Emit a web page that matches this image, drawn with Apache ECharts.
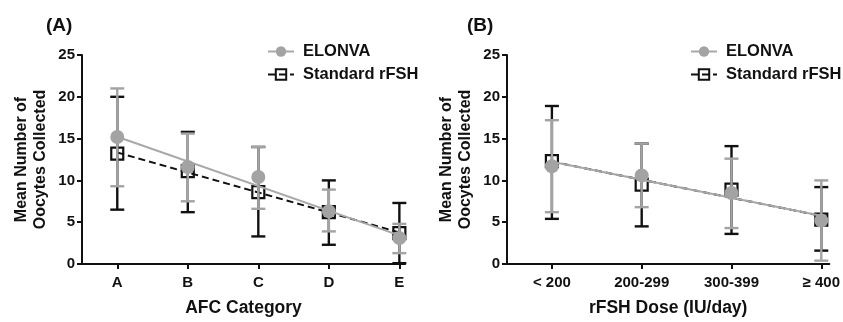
<!DOCTYPE html>
<html>
<head>
<meta charset="utf-8">
<script src="https://cdn.jsdelivr.net/npm/echarts@6/dist/echarts.min.js"></script>
<style>html,body{margin:0;padding:0;background:#fff}#c{width:843px;height:322px}</style>
</head>
<body>
<div id="c"></div>
<script>
// Panel A: AFC category
var categoriesA = ['A', 'B', 'C', 'D', 'E'];
var elonvaMeanA = [15.2, 11.6, 10.4, 6.3, 3.1];
var elonvaLowA  = [9.3, 7.5, 6.6, 3.9, 1.3];
var elonvaHighA = [21.0, 15.6, 14.0, 8.9, 4.8];
var stdMeanA = [13.2, 11.1, 8.6, 6.2, 3.7];
var stdLowA  = [6.5, 6.2, 3.3, 2.3, 0.1];
var stdHighA = [20.0, 15.8, 14.0, 10.0, 7.3];

// Panel B: rFSH dose
var categoriesB = ['< 200', '200-299', '300-399', '\u2265 400'];
var elonvaMeanB = [11.7, 10.6, 8.5, 5.2];
var elonvaLowB  = [6.2, 6.8, 4.3, 0.4];
var elonvaHighB = [17.2, 14.4, 12.6, 10.0];
var stdMeanB = [12.3, 9.5, 8.9, 5.3];
var stdLowB  = [5.4, 4.5, 3.6, 1.6];
var stdHighB = [18.9, 14.4, 14.1, 9.2];

var yTicks = [0, 5, 10, 15, 20, 25];

var GRAY = '#a3a3a3';
var BLACK = '#111111';
var FONT = 'Liberation Sans, Arial, sans-serif';

function fit(means) {
  var n = means.length, mx = (n - 1) / 2, my = 0;
  means.forEach(function (v) { my += v; });
  my /= n;
  var sxy = 0, sxx = 0;
  means.forEach(function (v, i) { sxy += (i - mx) * (v - my); sxx += (i - mx) * (i - mx); });
  var b = sxy / sxx, a = my - b * mx;
  return [[0, a], [n - 1, a + b * (n - 1)]];
}
function errData(low, high) { return low.map(function (l, i) { return [i, l, high[i]]; }); }
function ptData(means) { return means.map(function (m, i) { return [i, m]; }); }

function errRender(color) {
  return function (params, api) {
    var x = api.value(0);
    var p1 = api.coord([x, api.value(1)]);
    var p2 = api.coord([x, api.value(2)]);
    var w = 7;
    var st = { stroke: color, lineWidth: 2.4 };
    return { type: 'group', children: [
      { type: 'line', shape: { x1: p1[0], y1: p1[1], x2: p2[0], y2: p2[1] }, style: st },
      { type: 'line', shape: { x1: p1[0] - w, y1: p1[1], x2: p1[0] + w, y2: p1[1] }, style: st },
      { type: 'line', shape: { x1: p2[0] - w, y1: p2[1], x2: p2[0] + w, y2: p2[1] }, style: st }
    ]};
  };
}

function xAxis(gi, cats, max) {
  var vals = cats.map(function (c, i) { return i; });
  return {
    type: 'value', gridIndex: gi, min: -0.5, max: max,
    name: gi === 0 ? 'AFC Category' : 'rFSH Dose (IU/day)',
    nameLocation: 'middle', nameGap: 35,
    nameTextStyle: { fontFamily: FONT, fontWeight: 'bold', fontSize: 17.5, color: BLACK },
    splitLine: { show: false },
    axisLine: { onZero: false, lineStyle: { color: BLACK, width: 2 } },
    axisTick: { customValues: vals, length: 5, lineStyle: { color: BLACK, width: 2 } },
    axisLabel: { customValues: vals, margin: 11, fontFamily: FONT, fontWeight: 'bold', fontSize: 15, color: BLACK,
      formatter: function (v) { return cats[Math.round(v)]; } }
  };
}
function yAxis(gi) {
  return {
    type: 'value', gridIndex: gi, min: 0, max: 25, interval: 5,
    name: 'Mean Number of\nOocytes Collected', nameLocation: 'middle', nameGap: 32, nameRotate: 90,
    nameTextStyle: { fontFamily: FONT, fontWeight: 'bold', fontSize: 16, color: BLACK, lineHeight: 19 },
    splitLine: { show: false },
    axisLine: { show: true, onZero: false, lineStyle: { color: BLACK, width: 2 } },
    axisTick: { show: true, length: 5, lineStyle: { color: BLACK, width: 2 } },
    axisLabel: { margin: 7, fontFamily: FONT, fontWeight: 'bold', fontSize: 15, color: BLACK,
      customValues: yTicks }
  };
}

function panelSeries(gi, eM, eL, eH, sM, sL, sH) {
  return [
    { name: 'ELONVA', type: 'line', xAxisIndex: gi, yAxisIndex: gi, data: fit(eM), z: 6,
      symbol: 'circle', symbolSize: 13, showSymbol: false, silent: true,
      itemStyle: { color: GRAY }, lineStyle: { color: '#a8a8a8', width: 2 } },
    { name: 'Standard rFSH', type: 'line', xAxisIndex: gi, yAxisIndex: gi, data: fit(sM), z: 3,
      symbol: 'rect', symbolSize: 12, showSymbol: false, silent: true,
      itemStyle: { color: 'rgba(255,255,255,0)', borderColor: BLACK, borderWidth: 2 },
      lineStyle: { color: BLACK, width: 2, type: [7, 4] } },
    { name: 'Standard rFSH', type: 'custom', xAxisIndex: gi, yAxisIndex: gi, z: 2,
      renderItem: errRender(BLACK), data: errData(sL, sH), encode: { x: 0, y: [1, 2] } },
    { name: 'Standard rFSH', type: 'scatter', xAxisIndex: gi, yAxisIndex: gi, z: 4,
      symbol: 'rect', symbolSize: 12, data: ptData(sM),
      itemStyle: { color: 'rgba(255,255,255,0)', borderColor: BLACK, borderWidth: 2.2, opacity: 1 } },
    { name: 'ELONVA', type: 'custom', xAxisIndex: gi, yAxisIndex: gi, z: 5,
      renderItem: errRender(GRAY), data: errData(eL, eH), encode: { x: 0, y: [1, 2] } },
    { name: 'ELONVA', type: 'scatter', xAxisIndex: gi, yAxisIndex: gi, z: 7,
      symbol: 'circle', symbolSize: 14, data: ptData(eM),
      itemStyle: { color: GRAY, opacity: 1 } }
  ];
}

function legend(left) {
  return {
    left: left, top: 38, orient: 'vertical', itemGap: 6, itemWidth: 26, itemHeight: 13,
    data: ['ELONVA', 'Standard rFSH'], selectedMode: false,
    textStyle: { fontFamily: FONT, fontWeight: 'bold', fontSize: 16.5, color: BLACK, padding: [0, 0, 0, 4] }
  };
}

var chart = echarts.init(document.getElementById('c'), null, { renderer: 'canvas' });
chart.setOption({
  animation: false,
  backgroundColor: '#fff',
  title: [
    { text: '(A)', left: 41, top: 11, textStyle: { fontFamily: FONT, fontWeight: 'bold', fontSize: 19, color: BLACK } },
    { text: '(B)', left: 462, top: 11, textStyle: { fontFamily: FONT, fontWeight: 'bold', fontSize: 19, color: BLACK } }
  ],
  legend: [legend(262), legend(685)],
  grid: [
    { left: 82, top: 55, width: 323, height: 213, containLabel: false },
    { left: 507, top: 55, width: 323, height: 213, containLabel: false }
  ],
  xAxis: [xAxis(0, categoriesA, 4.08), xAxis(1, categoriesB, 3.09)],
  yAxis: [yAxis(0), yAxis(1)],
  series: panelSeries(0, elonvaMeanA, elonvaLowA, elonvaHighA, stdMeanA, stdLowA, stdHighA)
    .concat(panelSeries(1, elonvaMeanB, elonvaLowB, elonvaHighB, stdMeanB, stdLowB, stdHighB))
});
</script>
</body>
</html>
